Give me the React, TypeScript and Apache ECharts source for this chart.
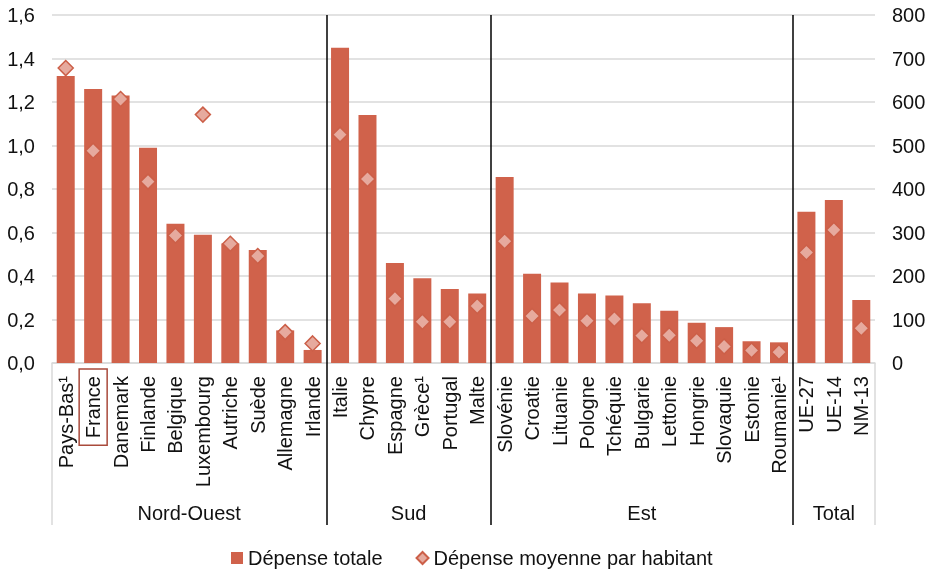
import React, { useEffect, useRef } from "react";
import * as echarts from "echarts";

const categories = [
  "Pays-Bas¹", "France", "Danemark", "Finlande", "Belgique", "Luxembourg", "Autriche", "Suède", "Allemagne", "Irlande",
  "Italie", "Chypre", "Espagne", "Grèce¹", "Portugal", "Malte",
  "Slovénie", "Croatie", "Lituanie", "Pologne", "Tchéquie", "Bulgarie", "Lettonie", "Hongrie", "Slovaquie", "Estonie", "Roumanie¹",
  "UE-27", "UE-14", "NM-13",
];
const depenseTotale = [
  1.32, 1.26, 1.23, 0.99, 0.64, 0.59, 0.55, 0.52, 0.15, 0.06,
  1.45, 1.14, 0.46, 0.39, 0.34, 0.32,
  0.855, 0.41, 0.37, 0.32, 0.31, 0.275, 0.24, 0.185, 0.165, 0.1, 0.095,
  0.695, 0.75, 0.29,
];
const depenseParHabitant = [
  678, 488, 607, 417, 293, 571, 274, 246, 71, 45,
  525, 423, 148, 95, 95, 131,
  280, 108, 122, 97, 101, 63, 64, 51, 38, 29, 25,
  254, 306, 80,
];
const groups = ["Nord-Ouest", "Sud", "Est", "Total"];
const groupSizes = [10, 6, 11, 3];
const leftTicks = { min: 0, max: 1.6, interval: 0.2 };
const rightTicks = { min: 0, max: 800, interval: 100 };

const FONT = "'Liberation Sans', Arial, sans-serif";
const BAR = "#D0624B";
const DIAMOND_FILL = "#E6AA9E";
const DIAMOND_BORDER = "#CC5F48";

export default function App() {
  const ref = useRef<HTMLDivElement>(null);
  useEffect(() => {
    if (!ref.current) return;
    const chart = echarts.init(ref.current, undefined, { renderer: "svg" });

    const centers: number[] = [];
    const bounds: number[] = [];
    let acc = 0;
    groupSizes.forEach((s, i) => {
      centers.push(acc + s / 2);
      acc += s;
      if (i < groupSizes.length - 1) bounds.push(acc);
    });
    const total = acc;
    const groupLabelAt = (v: number) => {
      const i = centers.findIndex((c) => Math.abs(c - v) < 1e-6);
      return i >= 0 ? groups[i] : "";
    };

    chart.setOption({
      animation: false,
      textStyle: { fontFamily: FONT },
      grid: { left: 52, right: 56, top: 15, bottom: 207, containLabel: false, outerBoundsMode: "none" },
      legend: {
        left: 226,
        top: 543,
        itemWidth: 12,
        itemHeight: 12,
        itemGap: 33,
        textStyle: { fontSize: 20, color: "#111", fontFamily: FONT },
        data: [
          { name: "Dépense totale", icon: "rect" },
          { name: "Dépense moyenne par habitant", icon: "diamond" },
        ],
      },
      xAxis: [
        {
          type: "category",
          data: categories,
          position: "bottom",
          axisLine: { onZero: false, lineStyle: { color: "#D9D9D9", width: 1.5 } },
          axisTick: { show: false },
          axisLabel: {
            interval: 0,
            rotate: 90,
            margin: 6,
            color: "#111",
            fontSize: 20,
            fontFamily: FONT,
            formatter: (v: string) => (v === "France" ? `{box|${v}}` : `{n|${v}}`),
            rich: {
              box: {
                fontSize: 20,
                fontFamily: FONT,
                color: "#111",
                lineHeight: 20,
                padding: [4, 7, 4, 7],
                borderColor: "#A94A3B",
                borderWidth: 1.5,
              },
              n: { fontSize: 20, fontFamily: FONT, color: "#111", lineHeight: 20, padding: [4, 7, 4, 7] },
            },
          },
        },
        {
          type: "value",
          min: 0,
          max: total,
          position: "bottom",
          offset: 162,
          splitLine: { show: false },
          axisLine: { show: false, onZero: false },
          axisTick: {
            show: true,
            inside: true,
            length: 510,
            customValues: bounds,
            lineStyle: { color: "#000", width: 1.5 },
          },
          axisLabel: {
            show: true,
            inside: true,
            margin: 2,
            fontSize: 20,
            color: "#111",
            fontFamily: FONT,
            customValues: centers,
            formatter: (v: number) => groupLabelAt(v),
          },
        },
        {
          type: "value",
          min: 0,
          max: total,
          position: "bottom",
          offset: 162,
          splitLine: { show: false },
          axisLine: { show: false, onZero: false },
          axisTick: {
            show: true,
            inside: true,
            length: 162,
            customValues: [0, total],
            lineStyle: { color: "#D9D9D9", width: 1.5 },
          },
          axisLabel: { show: false },
        },
      ],
      yAxis: [
        {
          type: "value",
          ...leftTicks,
          position: "left",
          axisLine: { show: false },
          axisTick: { show: false },
          splitLine: { lineStyle: { color: "#D9D9D9", width: 1.5 } },
          axisLabel: {
            margin: 17,
            fontSize: 20,
            color: "#111",
            fontFamily: FONT,
            formatter: (v: number) => v.toFixed(1).replace(".", ","),
          },
        },
        {
          type: "value",
          ...rightTicks,
          position: "right",
          axisLine: { show: false },
          axisTick: { show: false },
          splitLine: { show: false },
          axisLabel: { margin: 17, fontSize: 20, color: "#111", fontFamily: FONT },
        },
      ],
      series: [
        {
          name: "Dépense totale",
          type: "bar",
          xAxisIndex: 0,
          yAxisIndex: 0,
          data: depenseTotale,
          barWidth: 18,
          itemStyle: { color: BAR },
        },
        {
          name: "Dépense moyenne par habitant",
          type: "scatter",
          xAxisIndex: 0,
          yAxisIndex: 1,
          data: depenseParHabitant,
          symbol: "diamond",
          symbolSize: 15,
          itemStyle: { color: DIAMOND_FILL, borderColor: DIAMOND_BORDER, borderWidth: 1.5, opacity: 1 },
          z: 3,
        },
      ],
    });
    return () => chart.dispose();
  }, []);
  return <div ref={ref} style={{ position: "fixed", left: 0, top: 0, width: 931, height: 570 }} />;
}
